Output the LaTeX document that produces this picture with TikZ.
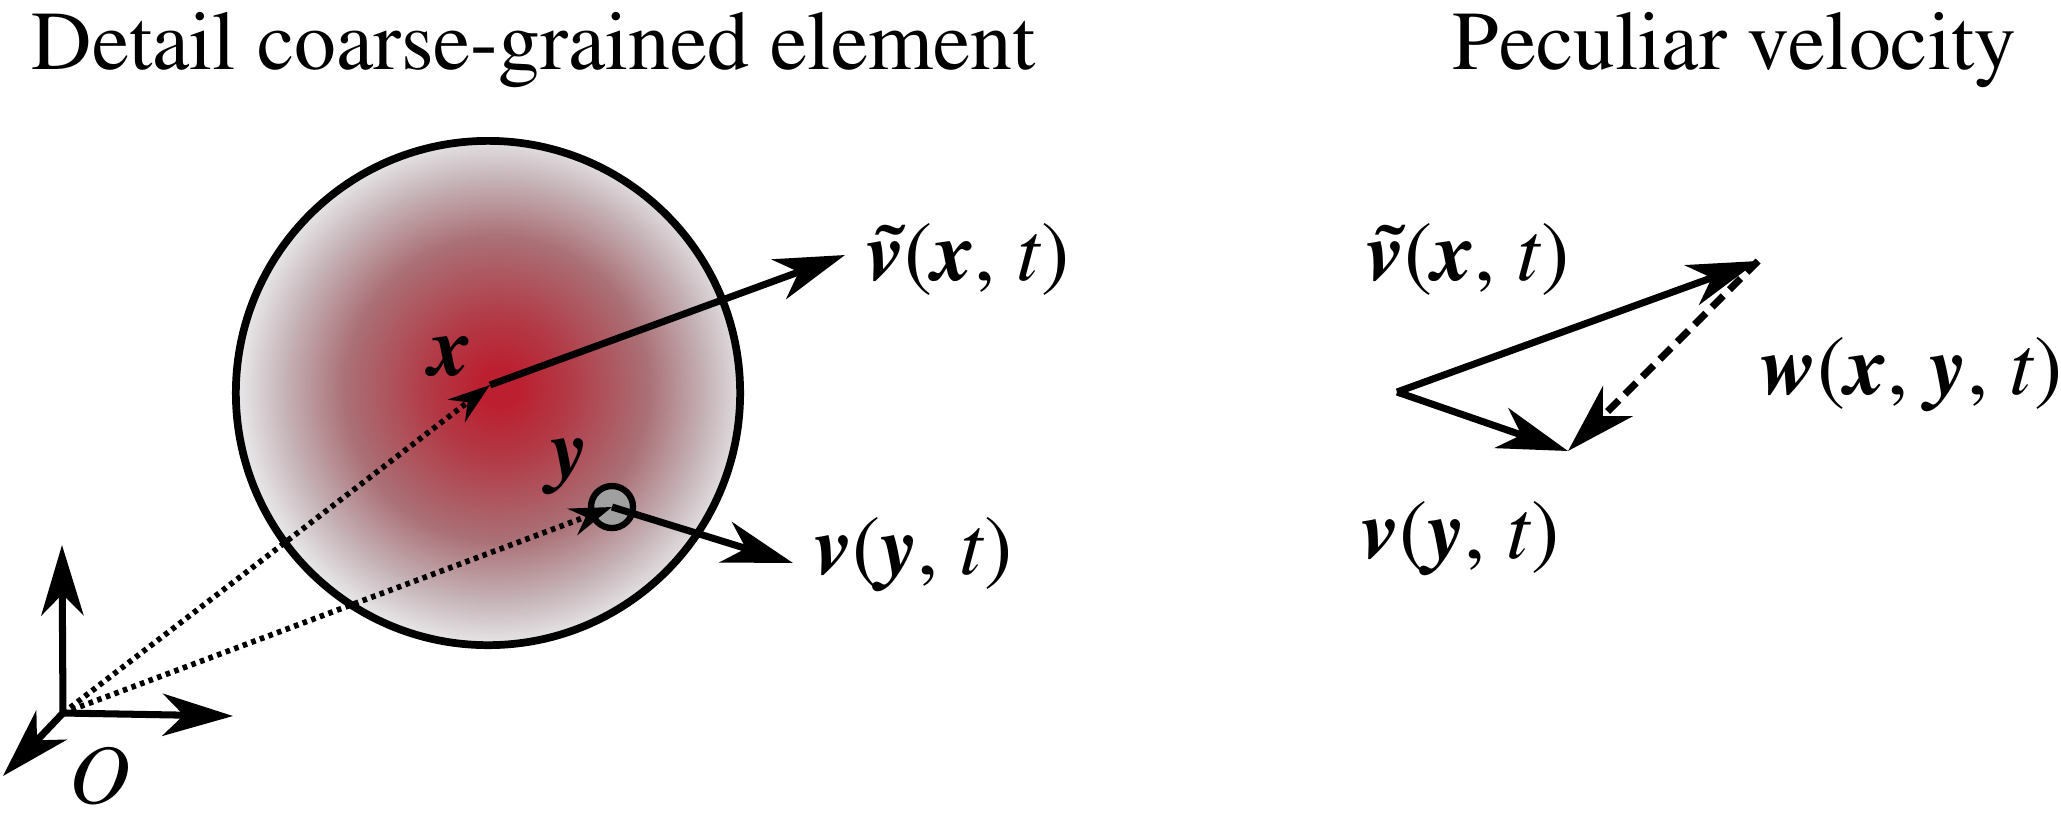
\documentclass[tikz,border=0pt]{standalone}
\usepackage[T1]{fontenc}
\renewcommand{\rmdefault}{ptm}
\usetikzlibrary{arrows.meta}

\definecolor{cgcore}{RGB}{188,32,48}
\definecolor{cgwarm}{RGB}{178,58,70}
\definecolor{cgmid}{RGB}{170,112,118}
\definecolor{cgpale}{RGB}{198,180,184}
\definecolor{cgedge}{RGB}{229,227,229}
\definecolor{probe}{RGB}{160,160,160}

% edge of the path sits at 25bp
\pgfdeclareradialshading{cgblob}{\pgfpoint{1.2bp}{0.6bp}}{color(0bp)=(cgcore); color(2bp)=(cgcore); color(7bp)=(cgwarm); color(15bp)=(cgmid); color(21bp)=(cgpale); color(25bp)=(cgedge); color(50bp)=(cgedge)}

\newcommand{\bv}[1]{\textbf{\textit{#1}}}

\begin{document}
\begin{tikzpicture}[x=0.01cm,y=-0.01cm,
  vec/.style={line width=2pt,-{Stealth[length=20pt,width=12pt,inset=6pt]}},
  posvec/.style={line width=1.6pt,dash pattern=on 1.3pt off 1.3pt,-{Stealth[length=12pt,width=8pt,inset=4pt]}},
  lbl/.style={inner sep=0pt,font=\fontsize{24}{28}\selectfont},
  head/.style={inner sep=0pt,font=\fontsize{23.8}{28}\selectfont}]

 \useasboundingbox (0,0) rectangle (2061,829);

 \node[head,anchor=base west] (t1) at (31,69) {Detail coarse-grained element};
 \node[head,anchor=base east] (t2) at (2017,69) {Peculiar velocity};

% coarse-grained element
 \draw[shade,shading=cgblob,line width=2.2pt] (488,393) circle[radius=2.52cm];

 \coordinate (O) at (63,713);
 \coordinate (xp) at (490,385);
 \coordinate (yp) at (612,507);
 \coordinate (ex) at (233,716);
 \coordinate (ey) at (62,545);
 \coordinate (ez) at (3,776);
 \coordinate (vxt) at (845,255);
 \coordinate (vyt) at (793,563);

 \draw[vec] (O) -- (ey); % axes
 \draw[vec] (O) -- (ex);
 \draw[vec] (O) -- (ez);
 \node[lbl,anchor=base] (Olbl) at (100,803) {\textit{O}};

 \draw[line width=1.8pt,fill=probe] (yp) circle[radius=0.21cm];
 \draw[posvec] (O) -- (xp);
 \draw[posvec] (O) -- (yp);

 \draw[vec] (xp) -- (vxt);
 \draw[vec] (yp) -- (vyt);

 \node[lbl,anchor=base] (xlbl) at (451,375) {\bv{x}};
 \node[lbl,anchor=base] (ylbl) at (569,477) {\bv{y}};
 \node[lbl,anchor=base west] (vxlbl) at (866,280) {\bv{\~v}(\bv{x}, \textit{t})};
 \node[lbl,anchor=base west] (vylbl) at (814,574) {\bv{v}(\bv{y}, \textit{t})};

% peculiar velocity triangle
 \coordinate (p0) at (1397,392);
 \coordinate (p1) at (1758,261);
 \coordinate (p2) at (1568,451);

 \draw[vec] (p0) -- (p1);
 \draw[vec] (p0) -- (p2);
 \draw[vec,dash pattern=on 4.5pt off 2.5pt] (p1) -- (p2);

 \node[lbl,anchor=base west] (mvx) at (1366,280) {\bv{\~v}(\bv{x}, \textit{t})};
 \node[lbl,anchor=base west] (mw) at (1760,394) {\bv{w}(\bv{x}, \bv{y}, \textit{t})};
 \node[lbl,anchor=base west] (mvy) at (1361,558) {\bv{v}(\bv{y}, \textit{t})};

\end{tikzpicture}
\end{document}
